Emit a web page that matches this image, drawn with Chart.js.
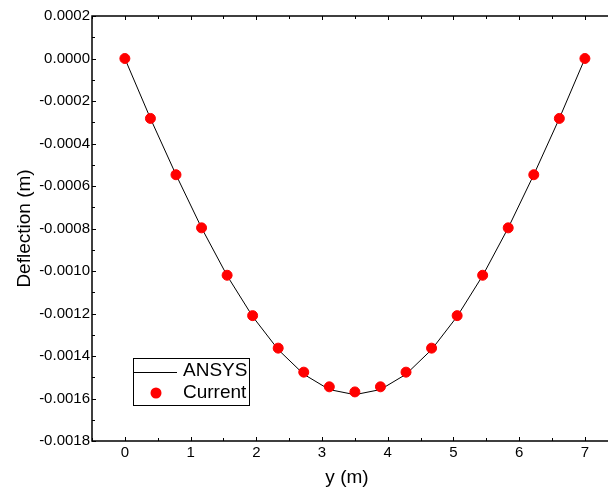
<!DOCTYPE html>
<html>
<head>
<meta charset="utf-8">
<title>Deflection</title>
<script src="https://cdn.jsdelivr.net/npm/chart.js@4/dist/chart.umd.min.js"></script>
<style>
  html, body { margin: 0; padding: 0; background: #fff; }
  #wrap { width: 608px; height: 490px; overflow: hidden; }
</style>
</head>
<body>
<div id="wrap"><canvas id="deflectionChart" width="608" height="490"></canvas></div>
<script>
// 沿梁长度的节点位置 (m)
const positions = [0, 0.389, 0.778, 1.167, 1.556, 1.944, 2.333, 2.722, 3.111, 3.5,
                   3.889, 4.278, 4.667, 5.056, 5.444, 5.833, 6.222, 6.611, 7];

// ANSYS 结果 (m)
const ansysDeflection = [0, -0.000282, -0.000547, -0.000797, -0.001022, -0.001214, -0.001370, -0.001486, -0.001558, -0.001582,
                         -0.001558, -0.001486, -0.001370, -0.001214, -0.001022, -0.000797, -0.000547, -0.000282, 0];

// 本文方法结果 (m)
const currentDeflection = [0, -0.000282, -0.000547, -0.000797, -0.001020, -0.001210, -0.001363, -0.001476, -0.001545, -0.001569,
                           -0.001545, -0.001476, -0.001363, -0.001210, -0.001020, -0.000797, -0.000547, -0.000282, 0];

// 刻度
const xTicks = [0, 1, 2, 3, 4, 5, 6, 7];
const yTicks = [0.0002, 0, -0.0002, -0.0004, -0.0006, -0.0008, -0.0010, -0.0012, -0.0014, -0.0016, -0.0018];

const FONT = 'Liberation Sans, Arial, sans-serif';

function toPoints(xs, ys) {
    return xs.map((x, i) => ({ x: x, y: ys[i] }));
}

// 画坐标轴框线和朝内的刻度
const axesPlugin = {
    id: 'axesFrame',
    afterDatasetsDraw(chart) {
        const ctx = chart.ctx;
        const area = chart.chartArea;
        const xs = chart.scales.x;
        const ys = chart.scales.y;
        ctx.save();
        ctx.strokeStyle = '#000';
        ctx.lineWidth = 1.5;
        ctx.beginPath();
        ctx.moveTo(chart.width, area.top);
        ctx.lineTo(area.left, area.top);
        ctx.lineTo(area.left, area.bottom);
        ctx.lineTo(chart.width, area.bottom);
        ctx.stroke();

        ctx.lineWidth = 1;
        ctx.beginPath();
        // x 方向：主刻度与半格副刻度
        const xMarks = [];
        xTicks.forEach(v => {
            xMarks.push([v, 4]);
            xMarks.push([v - 0.5, 3]);
        });
        xMarks.push([xTicks[xTicks.length - 1] + 0.5, 3]);
        xMarks.forEach(([v, len]) => {
            if (v < xs.min || v > xs.max) return;
            const px = Math.round(xs.getPixelForValue(v)) + 0.5;
            ctx.moveTo(px, area.bottom);
            ctx.lineTo(px, area.bottom - len);
            ctx.moveTo(px, area.top);
            ctx.lineTo(px, area.top + len);
        });
        // y 方向
        yTicks.forEach((v, i) => {
            const py = Math.round(ys.getPixelForValue(v)) + 0.5;
            ctx.moveTo(area.left, py);
            ctx.lineTo(area.left + 4, py);
            if (i < yTicks.length - 1) {
                const pm = Math.round(ys.getPixelForValue((v + yTicks[i + 1]) / 2)) + 0.5;
                ctx.moveTo(area.left, pm);
                ctx.lineTo(area.left + 3, pm);
            }
        });
        ctx.stroke();
        ctx.restore();
    }
};

// 图内左下角的图例框
const legendBoxPlugin = {
    id: 'legendBox',
    afterDraw(chart) {
        const ctx = chart.ctx;
        const ansys = chart.data.datasets[0];
        const cur = chart.data.datasets[1];
        const bx = 133, by = 358, bw = 116, bh = 47;
        ctx.save();
        ctx.fillStyle = '#fff';
        ctx.fillRect(bx, by, bw, bh);
        ctx.strokeStyle = '#000';
        ctx.lineWidth = 1;
        ctx.strokeRect(bx + 0.5, by + 0.5, bw, bh);

        ctx.strokeStyle = ansys.borderColor;
        ctx.lineWidth = ansys.borderWidth;
        ctx.beginPath();
        ctx.moveTo(134, 372.5);
        ctx.lineTo(177, 372.5);
        ctx.stroke();

        ctx.fillStyle = cur.backgroundColor;
        ctx.beginPath();
        ctx.arc(156, 393, 5.5, 0, Math.PI * 2);
        ctx.fill();

        ctx.fillStyle = '#000';
        ctx.font = '19px ' + FONT;
        ctx.textBaseline = 'middle';
        ctx.textAlign = 'left';
        ctx.fillText(ansys.label, 183, 371);
        ctx.fillText(cur.label, 183, 393);
        ctx.restore();
    }
};

const ctx = document.getElementById('deflectionChart').getContext('2d');
const chart = new Chart(ctx, {
    type: 'scatter',
    data: {
        datasets: [
            {
                label: 'ANSYS',
                data: toPoints(positions, ansysDeflection),
                showLine: true,
                borderColor: '#000',
                borderWidth: 1,
                pointRadius: 0,
                tension: 0,
                order: 1
            },
            {
                label: 'Current',
                data: toPoints(positions, currentDeflection),
                showLine: false,
                backgroundColor: '#ff0000',
                borderColor: '#ff0000',
                borderWidth: 1,
                pointRadius: 5,
                order: 0
            }
        ]
    },
    options: {
        responsive: false,
        animation: false,
        devicePixelRatio: 1,
        layout: { padding: { top: 16, right: 0, left: 0, bottom: 0 } },
        plugins: {
            legend: { display: false },
            tooltip: { enabled: false }
        },
        scales: {
            x: {
                type: 'linear',
                min: -0.5,
                max: 7.26,
                grid: { display: false, drawTicks: false },
                border: { display: false },
                afterBuildTicks: scale => { scale.ticks = xTicks.map(v => ({ value: v })); },
                afterFit: scale => { scale.height = 49; },
                ticks: {
                    padding: 3,
                    color: '#000',
                    font: { family: FONT, size: 15 },
                    callback: v => String(v)
                },
                title: {
                    display: true,
                    text: 'y (m)',
                    color: '#000',
                    font: { family: FONT, size: 19 },
                    padding: { top: 0, bottom: 1 }
                }
            },
            y: {
                type: 'linear',
                min: -0.0018,
                max: 0.0002,
                grid: { display: false, drawTicks: false },
                border: { display: false },
                afterBuildTicks: scale => { scale.ticks = yTicks.map(v => ({ value: v })); },
                afterFit: scale => { scale.width = 92; },
                ticks: {
                    padding: 2,
                    color: '#000',
                    font: { family: FONT, size: 15 },
                    callback: v => Math.abs(v) < 1e-12 ? '0.0000' : v.toFixed(4)
                },
                title: {
                    display: true,
                    text: 'Deflection (m)',
                    color: '#000',
                    font: { family: FONT, size: 19 },
                    padding: { top: 13, bottom: 0 }
                }
            }
        }
    },
    plugins: [axesPlugin, legendBoxPlugin]
});
</script>
</body>
</html>
